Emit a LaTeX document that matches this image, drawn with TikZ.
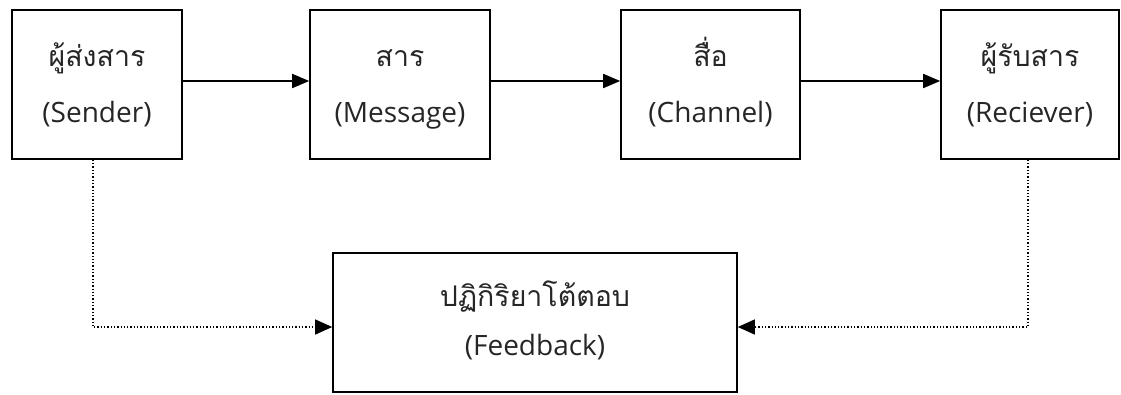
\documentclass[tikz,border=0pt]{standalone}
\usepackage{fontspec}
\setmainfont{Open Sans}
\newfontfamily\thaifont[Script=Thai]{Loma}
\usetikzlibrary{arrows.meta}
\begin{document}
\begin{tikzpicture}[x=1pt,y=-1pt,
  box/.style={draw=black,line width=1.6pt,inner sep=0pt},
  thai/.style={anchor=base,font=\thaifont\fontsize{28.5}{30}\selectfont,text=black!85,inner sep=0pt},
  eng/.style={anchor=base,font=\fontsize{28}{30}\selectfont,text=black!85,inner sep=0pt},
  flow/.style={line width=1.7pt,-{Triangle[length=17pt,width=14pt]}},
  fb/.style={line width=1.3pt,dotted,-{Triangle[length=17pt,width=15pt]}}]
\useasboundingbox (0,0) rectangle (1121,394);
\node[box,minimum width=170pt,minimum height=149pt] (sender) at (97,84.5) {};
\node[box,minimum width=180pt,minimum height=149pt] (message) at (400,84.5) {};
\node[box,minimum width=179pt,minimum height=149pt] (channel) at (710.5,84.5) {};
\node[box,minimum width=178pt,minimum height=149pt] (receiver) at (1030,84.5) {};
\node[box,minimum width=404pt,minimum height=139pt] (feedback) at (535,322.5) {};
\node[thai] (t1) at (97,66) {ผู้ส่งสาร};
\node[eng] (e1) at (97,122) {(Sender)};
\node[thai] (t2) at (400,66) {สาร};
\node[eng] (e2) at (400,122) {(Message)};
\node[thai] (t3) at (710.5,66) {สื่อ};
\node[eng] (e3) at (710.5,122) {(Channel)};
\node[thai] (t4) at (1030,66) {ผู้รับสาร};
\node[eng] (e4) at (1030,122) {(Reciever)};
\node[thai] (t5) at (535,306) {ปฏิกิริยาโต้ตอบ};
\node[eng] (e5) at (535,355) {(Feedback)};
\draw[flow] (sender.east |- 0,81) -- (message.west |- 0,81);
\draw[flow] (message.east |- 0,81) -- (channel.west |- 0,81);
\draw[flow] (channel.east |- 0,81) -- (receiver.west |- 0,81);
\coordinate (c1) at ([xshift=-4pt]sender.south);
\coordinate (c2) at ([xshift=-2pt]receiver.south);
\draw[fb] (c1) -- (c1 |- 0,327) -- (feedback.west |- 0,327);
\draw[fb] (c2) -- (c2 |- 0,327) -- (feedback.east |- 0,327);
\end{tikzpicture}
\end{document}
